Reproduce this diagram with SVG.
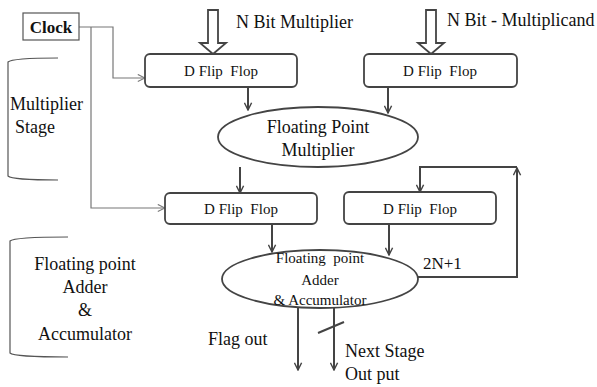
<svg xmlns="http://www.w3.org/2000/svg" width="597" height="387" viewBox="0 0 597 387">
<defs>
<marker id="ah" viewBox="0 0 10 10" refX="9" refY="5" markerWidth="9" markerHeight="9" markerUnits="userSpaceOnUse" orient="auto"><path d="M1,1 L9,5 L1,9" fill="none" stroke="#444" stroke-width="1.6"/></marker>
<marker id="ahc" viewBox="0 0 10 10" refX="9" refY="5" markerWidth="9" markerHeight="9" markerUnits="userSpaceOnUse" orient="auto"><path d="M1,1 L9,5 L1,9" fill="none" stroke="#777" stroke-width="1.2"/></marker>
</defs>
<style>
text{font-family:'Liberation Serif','Times New Roman',serif;fill:#111}
.box{fill:#fff;stroke:#444;stroke-width:1.8}
.ell{fill:#fff;stroke:#444;stroke-width:1.8}
.ff{font-size:15px}
.big{font-size:18px}
.c{stroke:#444;stroke-width:2;fill:none}
.clk{stroke:#777;stroke-width:1.2;fill:none}
.br{stroke:#555;stroke-width:1.2;fill:none}
.hollow{fill:#fff;stroke:#444;stroke-width:1.8}
</style>
<rect width="597" height="387" fill="#fff"/>
<g id="connectors">
<path class="clk" d="M79,27 H113 V78 H145" marker-end="url(#ahc)"/>
<path class="clk" d="M91,27 V208 H165" marker-end="url(#ahc)"/>
<path class="hollow" d="M208,10 H218 V43 H226 L213,54 L200,43 H208 Z"/>
<path class="hollow" d="M426,10 H436 V43 H444 L431,54 L418,43 H426 Z"/>
<path class="c" d="M248,87 V110" marker-end="url(#ah)"/>
<path class="c" d="M388,87 V113" marker-end="url(#ah)"/>
<path class="c" d="M240,167 V193" marker-end="url(#ah)"/>
<path class="c" d="M272,224 V252" marker-end="url(#ah)"/>
<path class="c" d="M389,224 V255" marker-end="url(#ah)"/>
<path class="c" d="M418,277 H517 V168" marker-end="url(#ah)"/>
<path class="c" d="M517,167 H420 V192" marker-end="url(#ah)"/>
<path class="c" d="M298,308 V370" marker-end="url(#ah)"/>
<path class="c" d="M334,308 V370" marker-end="url(#ah)"/>
<path class="c" d="M318,333 L344,322"/>
</g>
<g id="clock"><rect x="23" y="13" width="56" height="27" fill="#fff" stroke="#555" stroke-width="1.2"/><text x="51" y="33" text-anchor="middle" font-size="17" font-weight="bold">Clock</text></g>
<g id="dff1"><rect class="box" x="145" y="54" width="152" height="33" rx="5"/><text class="ff" x="221" y="76" text-anchor="middle" xml:space="preserve">D Flip  Flop</text></g>
<g id="dff2"><rect class="box" x="364" y="54" width="153" height="33" rx="5"/><text class="ff" x="440" y="76" text-anchor="middle" xml:space="preserve">D Flip  Flop</text></g>
<g id="fpm"><ellipse class="ell" cx="318" cy="137" rx="100" ry="30"/><text class="big" x="318" y="133" text-anchor="middle">Floating Point</text><text class="big" x="318" y="156" text-anchor="middle">Multiplier</text></g>
<g id="dff3"><rect class="box" x="165" y="193" width="152" height="31" rx="5"/><text class="ff" x="241" y="214" text-anchor="middle" xml:space="preserve">D Flip  Flop</text></g>
<g id="dff4"><rect class="box" x="344" y="192" width="152" height="32" rx="5"/><text class="ff" x="420" y="214" text-anchor="middle" xml:space="preserve">D Flip  Flop</text></g>
<g id="fpa"><ellipse class="ell" cx="320" cy="279" rx="98" ry="29"/><text x="320" y="263" text-anchor="middle" font-size="15" xml:space="preserve">Floating  point</text><text x="320" y="285" text-anchor="middle" font-size="15">Adder</text><text x="320" y="305" text-anchor="middle" font-size="15">&amp; Accumulator</text></g>
<g id="labels">
<text class="big" x="236" y="28">N Bit Multiplier</text>
<text class="big" x="447" y="26">N Bit - Multiplicand</text>
<text x="423" y="269" font-size="17">2N+1</text>
<text class="big" x="208" y="345">Flag out</text>
<text class="big" x="345" y="357">Next Stage</text>
<text class="big" x="345" y="380">Out put</text>
</g>
<g id="stage1">
<path class="br" d="M58,58 Q12,58 8,62 V176 Q12,180 58,180"/>
<text class="big" x="10" y="110">Multiplier</text>
<text class="big" x="15" y="133">Stage</text>
</g>
<g id="stage2">
<path class="br" d="M68,237 Q14,237 10,241 V353 Q14,357 68,357"/>
<text class="big" x="85" y="270" text-anchor="middle">Floating point</text>
<text class="big" x="85" y="293" text-anchor="middle">Adder</text>
<text class="big" x="85" y="316" text-anchor="middle">&amp;</text>
<text class="big" x="85" y="340" text-anchor="middle">Accumulator</text>
</g>
</svg>
